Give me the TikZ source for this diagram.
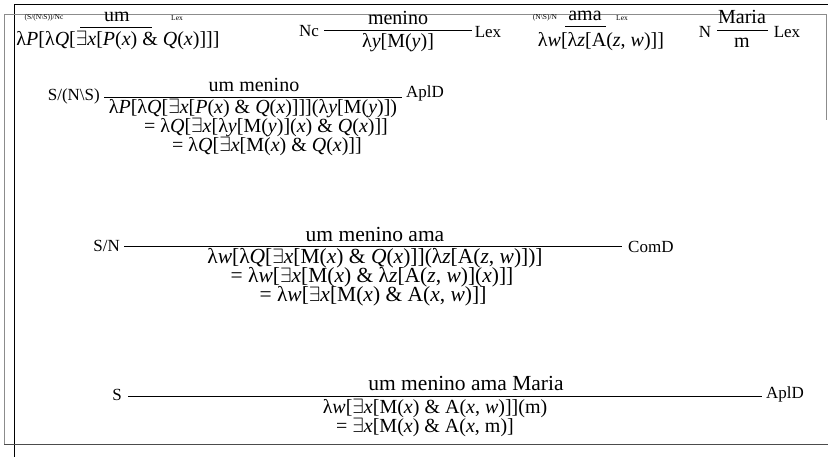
\documentclass[tikz,border=0pt]{standalone}
\usepackage{fontspec}
\setmainfont{Liberation Serif}
\newcommand\iv[1]{\textit{#1}}
\newcommand\ex{\ensuremath{\exists}}
\newcommand\bs{\textbackslash}
\tikzset{
  txt/.style={font=\fontsize{20}{20}\selectfont, inner sep=0pt},
  txtbig/.style={font=\fontsize{21.5}{21.5}\selectfont, inner sep=0pt},
  tinylab/.style={font=\fontsize{7.5}{7.5}\selectfont, inner sep=0pt},
  lab/.style={font=\fontsize{17}{17}\selectfont, inner sep=0pt},
  rul/.style={line width=0.8pt},
  frameblack/.style={line width=1pt, black},
  framegray/.style={line width=1pt, black!45},
}
\begin{document}
\begin{tikzpicture}[x=1pt,y=-1pt]
\useasboundingbox (0,0) rectangle (828,457);
% frame
\draw[frameblack] (828,5) -- (14,5) -- (14,457);
\draw[framegray] (4,444) -- (4,15) -- (826,15) -- (826,120);
\draw[line width=1pt, black!70] (4,444) -- (828,444);

% ---- Row 1 ----
\node[tinylab] (cat1) at (44,18) {(S/(N\bs S))/Nc};
\node[txt] (w1) at (117,17) {um};
\coordinate (l1a) at (80,27); \coordinate (l1b) at (152,27);
\draw[rul] (l1a) -- (l1b);
\node[tinylab] (lex1) at (177,18) {Lex};
\node[txt] (s1) at (118,40) {λ\iv{P}[λ\iv{Q}[\ex\iv{x}[\iv{P}(\iv{x}) \& \iv{Q}(\iv{x})]]]};

\node[lab] (cat2) at (309,31) {Nc};
\node[txt] (w2) at (398,18) {menino};
\node[lab] (lex2) at (488,32) {Lex};
\coordinate (l2a) at (324,30); \coordinate (l2b) at (472,30);
\draw[rul] (l2a) -- (l2b);
\node[txt] (s2) at (398,43) {λ\iv{y}[M(\iv{y})]};

\node[tinylab] (cat3) at (545,18) {(N\bs S)/N};
\node[txt] (w3) at (585,16) {ama};
\coordinate (l3a) at (565,26); \coordinate (l3b) at (606,26);
\draw[rul] (l3a) -- (l3b);
\node[tinylab] (lex3) at (622,18) {Lex};
\node[txt] (s3) at (601,42) {λ\iv{w}[λ\iv{z}[A(\iv{z}, \iv{w})]]};

\node[lab] (cat4) at (705,32) {N};
\node[txt] (w4) at (742,17) {Maria};
\node[lab] (lex4) at (787,32) {Lex};
\coordinate (l4a) at (717,30); \coordinate (l4b) at (768,30);
\draw[rul] (l4a) -- (l4b);
\node[txt] (s4) at (742,43) {m};

% ---- Row 2 ----
\node[lab, anchor=east] (cat5) at (100,96) {S/(N\bs S)};
\node[txt] (w5) at (254,85) {um menino};
\node[lab, anchor=west] (r5) at (406,93) {AplD};
\coordinate (l5a) at (104,97); \coordinate (l5b) at (402,97);
\draw[rul] (l5a) -- (l5b);
\node[txt] (s5a) at (253,108) {λ\iv{P}[λ\iv{Q}[\ex\iv{x}[\iv{P}(\iv{x}) \& \iv{Q}(\iv{x})]]](λ\iv{y}[M(\iv{y})])};
\node[txt] (s5b) at (266,127) {= λ\iv{Q}[\ex\iv{x}[λ\iv{y}[M(\iv{y})](\iv{x}) \& \iv{Q}(\iv{x})]]};
\node[txt] (s5c) at (267,146) {= λ\iv{Q}[\ex\iv{x}[M(\iv{x}) \& \iv{Q}(\iv{x})]]};

% ---- Row 3 ----
\node[lab, anchor=east] (cat6) at (120,246) {S/N};
\node[txtbig] (w6) at (375,234) {um menino ama};
\node[lab, anchor=west] (r6) at (628,247) {ComD};
\coordinate (l6a) at (124,246); \coordinate (l6b) at (622,246);
\draw[rul] (l6a) -- (l6b);
\node[txtbig] (s6a) at (375,258) {λ\iv{w}[λ\iv{Q}[\ex\iv{x}[M(\iv{x}) \& \iv{Q}(\iv{x})]](λ\iv{z}[A(\iv{z}, \iv{w})])]};
\node[txtbig] (s6b) at (372,277) {= λ\iv{w}[\ex\iv{x}[M(\iv{x}) \& λ\iv{z}[A(\iv{z}, \iv{w})](\iv{x})]]};
\node[txtbig] (s6c) at (373,296) {= λ\iv{w}[\ex\iv{x}[M(\iv{x}) \& A(\iv{x}, \iv{w})]]};

% ---- Row 4 ----
\node[lab, anchor=east] (cat7) at (122,395) {S};
\node[txtbig] (w7) at (466,383) {um menino ama Maria};
\node[lab, anchor=west] (r7) at (766,394) {AplD};
\coordinate (l7a) at (128,396); \coordinate (l7b) at (762,396);
\draw[rul] (l7a) -- (l7b);
\node[txt] (s7a) at (435,408) {λ\iv{w}[\ex\iv{x}[M(\iv{x}) \& A(\iv{x}, \iv{w})]](m)};
\node[txt] (s7b) at (425,427) {= \ex\iv{x}[M(\iv{x}) \& A(\iv{x}, m)]};
\end{tikzpicture}
\end{document}
